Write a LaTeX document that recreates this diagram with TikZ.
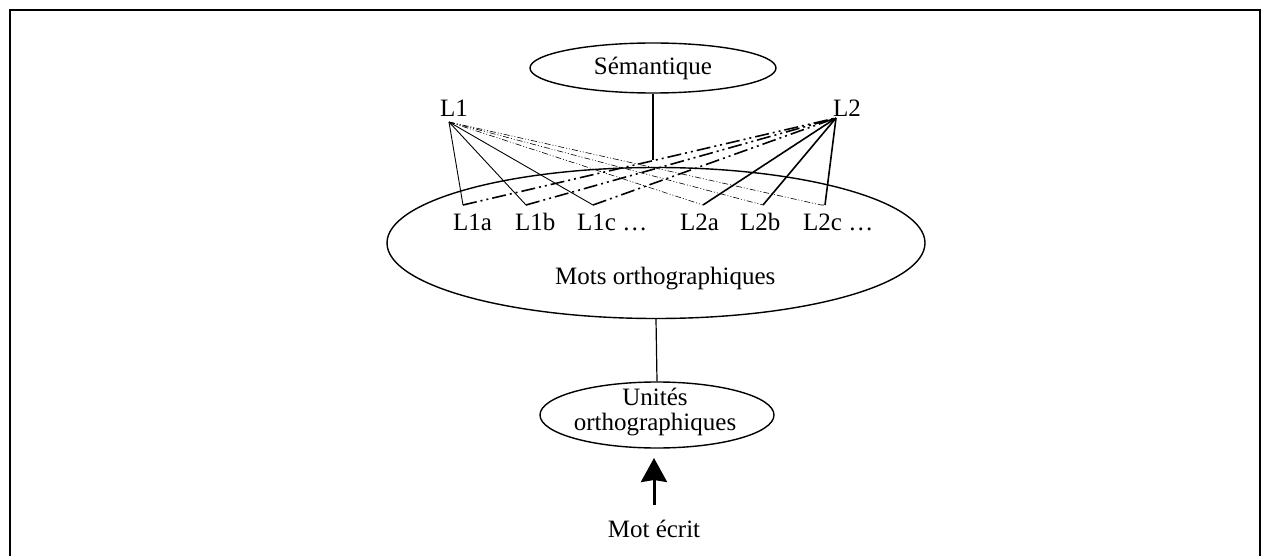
\documentclass[tikz,border=0pt]{standalone}
\usepackage{fontspec}
\setmainfont{Liberation Serif}
\usetikzlibrary{shapes.geometric,arrows.meta}
\begin{document}
\begin{tikzpicture}[x=1pt,y=-1pt,
  txt/.style={font=\fontsize{25}{25}\selectfont, inner sep=0pt},
  ell/.style={draw, ellipse, line width=1.4pt, inner sep=0pt},
  solidthin/.style={line width=0.9pt},
  solidthick/.style={line width=1.6pt},
  thindd/.style={line width=0.6pt, dash pattern=on 6pt off 2pt on 1pt off 2pt on 1pt off 2pt},
  thickdd/.style={line width=1.6pt, dash pattern=on 14pt off 4pt on 2pt off 4pt on 2pt off 4pt},
  conn/.style={line width=1.2pt},
  bigarrow/.style={line width=3pt, -{Stealth[length=24pt,width=26pt,inset=2pt]}},
]
\useasboundingbox (0,0) rectangle (1261,556);
\draw[line width=1.8pt] (10,580) -- (10,10) -- (1260,10) -- (1260,580);

% ellipses
\node[ell, minimum width=246pt, minimum height=50pt, txt] (sem) at (653,68) {Sémantique};
\node[ell, minimum width=538pt, minimum height=151pt] (mots) at (656,243) {};
\node[txt, anchor=base west] (motstxt) at (555,284) {Mots orthographiques};
\node[ell, minimum width=234pt, minimum height=66pt] (unit) at (657,415) {};
\node[txt, align=center] (unittxt) at (655,412) {Unités\\orthographiques};

% semantic connector
\coordinate (semend) at (653,160);
\draw[conn] (sem.south) -- (semend);
\draw[conn] (mots.south) -- (unit.north);

% input
\node[txt, anchor=base] (mot) at (654,537) {Mot écrit};
\coordinate (arrtail) at (654,505);
\coordinate (arrtip) at (654,458);
\draw[bigarrow] (arrtail) -- (arrtip);

% language labels
\node[txt, anchor=base west] (L1) at (440,117) {L1};
\node[txt, anchor=base west] (L2) at (833,117) {L2};
\coordinate (l1p) at (449,122);
\coordinate (l2p) at (836,118);

\node[txt, anchor=base west] (L1a) at (453,230) {L1a};
\node[txt, anchor=base west] (L1b) at (515,230) {L1b};
\node[txt, anchor=base west] (L1c) at (577,230) {L1c …};
\node[txt, anchor=base west] (L2a) at (680,230) {L2a};
\node[txt, anchor=base west] (L2b) at (740,230) {L2b};
\node[txt, anchor=base west] (L2c) at (803,230) {L2c …};

\coordinate (e1a) at (463,205);
\coordinate (e1b) at (526,205);
\coordinate (e1c) at (593,205);
\coordinate (e2a) at (703,205);
\coordinate (e2b) at (763,205);
\coordinate (e2c) at (825,205);
\coordinate (e2cx) at (821,205);

\draw[solidthin] (l1p) -- (e1a);
\draw[solidthin] (l1p) -- (e1b);
\draw[solidthin] (l1p) -- (e1c);
\draw[solidthick] (l2p) -- (e2a);
\draw[solidthick] (l2p) -- (e2b);
\draw[solidthick] (l2p) -- (e2c);

\draw[thindd] (l1p) -- (e2a);
\draw[thindd] (l1p) -- (e2b);
\draw[thindd] (l1p) -- (e2cx) -- (e2c);

\draw[thickdd] (e1a) -- (l2p);
\draw[thickdd] (e1b) -- (l2p);
\draw[thickdd] (e1c) -- (l2p);
\end{tikzpicture}
\end{document}
